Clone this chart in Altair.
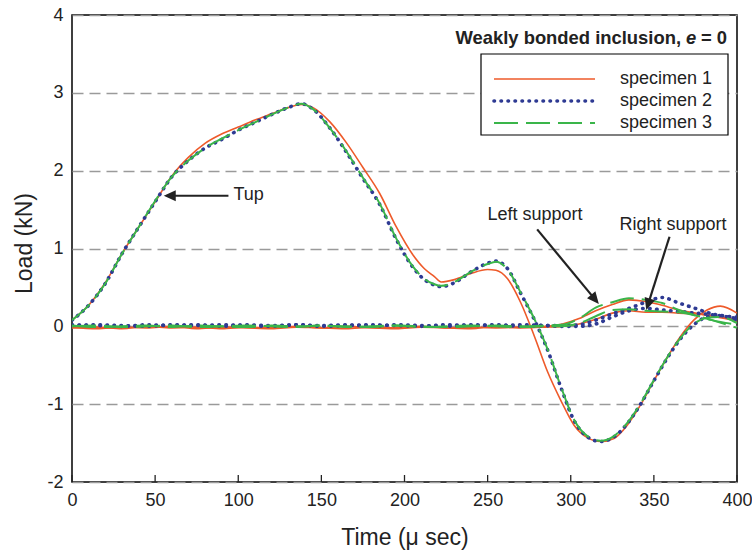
import altair as alt
import pandas as pd

# ---------------- data ----------------
SPECIMENS = ["specimen 1", "specimen 2", "specimen 3"]
COLORS = ["#ee5a2a", "#2e3a93", "#3ab54a"]

X_TICKS = [0, 50, 100, 150, 200, 250, 300, 350, 400]
Y_TICKS = [-2, -1, 0, 1, 2, 3, 4]

# Tup load (kN) vs time (micro sec)
TUP_T = [0, 10, 20, 30, 40, 50, 60, 70, 80, 90, 100, 110, 120, 130, 138, 145, 155, 165,
         175, 185, 195, 205, 212, 218, 222, 230, 240, 250, 255, 262, 270, 278, 286, 294,
         302, 310, 318, 326, 334, 342, 350, 358, 366, 374, 382, 390, 400]
TUP_1 = [0.08, 0.27, 0.56, 0.93, 1.27, 1.60, 1.93, 2.17, 2.35, 2.47, 2.56, 2.65, 2.73, 2.81,
         2.85, 2.81, 2.63, 2.36, 2.04, 1.71, 1.28, 0.92, 0.74, 0.64, 0.57, 0.60, 0.68, 0.73,
         0.72, 0.61, 0.30, -0.12, -0.58, -0.95, -1.27, -1.43, -1.48, -1.44, -1.27, -1.01,
         -0.70, -0.40, -0.13, 0.08, 0.21, 0.26, 0.17]
TUP_2 = [0.08, 0.27, 0.55, 0.93, 1.27, 1.60, 1.92, 2.13, 2.29, 2.40, 2.52, 2.62, 2.72, 2.81,
         2.86, 2.79, 2.55, 2.24, 1.90, 1.57, 1.12, 0.76, 0.60, 0.53, 0.51, 0.56, 0.70, 0.81,
         0.84, 0.74, 0.42, 0.09, -0.30, -0.78, -1.21, -1.42, -1.48, -1.42, -1.25, -1.00,
         -0.70, -0.41, -0.16, 0.02, 0.12, 0.14, 0.08]
TUP_3 = [0.08, 0.27, 0.55, 0.93, 1.27, 1.61, 1.92, 2.13, 2.29, 2.41, 2.52, 2.62, 2.72, 2.81,
         2.86, 2.79, 2.55, 2.25, 1.91, 1.58, 1.13, 0.77, 0.61, 0.54, 0.52, 0.57, 0.70, 0.80,
         0.83, 0.73, 0.43, 0.10, -0.29, -0.77, -1.20, -1.41, -1.47, -1.41, -1.24, -0.99,
         -0.69, -0.40, -0.15, 0.03, 0.11, 0.12, 0.04]

# Support loads (kN) vs time
SUP_T = [0, 15, 30, 45, 60, 75, 90, 105, 120, 135, 150, 165, 180, 195, 210, 225, 240, 255,
         270, 285, 295, 305, 315, 325, 335, 345, 355, 365, 375, 385, 400]
LEFT_1 = [-0.02, -0.01, -0.03, 0.00, -0.02, -0.01, -0.03, -0.01, -0.02, 0.00, -0.02, -0.03,
          -0.01, -0.02, 0.00, -0.02, -0.01, -0.02, -0.01, 0.00,
          0.03, 0.10, 0.20, 0.28, 0.34, 0.32, 0.27, 0.21, 0.17, 0.13, 0.07]
LEFT_2 = [0.02, 0.01, 0.00, 0.02, 0.01, 0.02, 0.00, 0.02, 0.01, 0.02, 0.00, 0.01, 0.02, 0.01,
          0.00, 0.02, 0.01, 0.02, 0.00, 0.01,
          0.01, 0.02, 0.08, 0.16, 0.23, 0.31, 0.37, 0.30, 0.23, 0.16, 0.12]
LEFT_3 = [0.00, 0.01, -0.01, 0.00, 0.01, -0.01, 0.00, 0.01, 0.00, -0.01, 0.01, 0.00, -0.01,
          0.01, 0.00, -0.01, 0.00, 0.01, 0.00, 0.01,
          0.02, 0.10, 0.24, 0.31, 0.36, 0.34, 0.30, 0.21, 0.14, 0.08, -0.02]
RIGHT_1 = [-0.01, -0.03, -0.01, -0.02, 0.00, -0.03, -0.01, -0.02, -0.03, -0.01, -0.02, 0.00,
           -0.02, -0.03, -0.01, -0.02, -0.03, 0.00, -0.02, -0.01,
           0.00, 0.03, 0.09, 0.17, 0.20, 0.18, 0.18, 0.17, 0.16, 0.14, 0.08]
RIGHT_2 = [0.01, 0.02, 0.01, 0.00, 0.02, 0.01, 0.02, 0.01, 0.00, 0.02, 0.01, 0.02, 0.00, 0.02,
           0.01, 0.00, 0.02, 0.01, 0.02, 0.01,
           0.00, 0.00, 0.03, 0.12, 0.20, 0.23, 0.21, 0.19, 0.17, 0.15, 0.10]
RIGHT_3 = [0.01, -0.01, 0.00, 0.01, -0.01, 0.01, 0.00, -0.01, 0.01, 0.00, 0.01, -0.01, 0.00,
           0.01, -0.01, 0.00, 0.01, 0.00, -0.01, 0.00,
           0.00, 0.04, 0.13, 0.21, 0.22, 0.20, 0.19, 0.18, 0.14, 0.08, 0.02]

# annotations: label, text anchor (t, load), arrow tail, arrow line end, arrow tip, head angle
ANN_LABEL = ["Tup", "Left support", "Right support"]
ANN_ALIGN = ["left", "center", "center"]
ANN_TEXT_T = [97.1, 278.5, 361.5]
ANN_TEXT_V = [1.687, 1.424, 1.308]
ANN_TAIL_T = [94.1, 279.8, 359.4]
ANN_TAIL_V = [1.678, 1.246, 1.151]
ANN_END_T = [58.8, 314.6, 346.5]
ANN_END_V = [1.678, 0.346, 0.282]
ANN_TIP_T = [55.2, 316.9, 345.4]
ANN_TIP_V = [1.678, 0.287, 0.209]
ANN_ANGLE = [270, 140.5, 197.6]

# ---------------- tables ----------------
rows = []
for spec, vals in zip(SPECIMENS, [TUP_1, TUP_2, TUP_3]):
    for t, v in zip(TUP_T, vals):
        rows.append({"t": t, "load": v, "specimen": spec, "curve": spec + " tup"})
for spec, vals in zip(SPECIMENS, [LEFT_1, LEFT_2, LEFT_3]):
    for t, v in zip(SUP_T, vals):
        rows.append({"t": t, "load": v, "specimen": spec, "curve": spec + " left"})
for spec, vals in zip(SPECIMENS, [RIGHT_1, RIGHT_2, RIGHT_3]):
    for t, v in zip(SUP_T, vals):
        rows.append({"t": t, "load": v, "specimen": spec, "curve": spec + " right"})
df = pd.DataFrame(rows)

arrows = pd.DataFrame({"t": ANN_TAIL_T, "load": ANN_TAIL_V, "t2": ANN_END_T, "load2": ANN_END_V})
heads = pd.DataFrame({"t": ANN_TIP_T, "load": ANN_TIP_V, "ang": ANN_ANGLE})
labels = pd.DataFrame({"t": ANN_TEXT_T, "load": ANN_TEXT_V, "label": ANN_LABEL})

FONT = "Liberation Sans"
INK = "#222222"

x_scale = alt.Scale(domain=[0, 400], nice=False)
y_scale = alt.Scale(domain=[-2, 4], nice=False)

x_enc = alt.X("t:Q", scale=x_scale,
              axis=alt.Axis(values=X_TICKS, title="Time (μ sec)", labelPadding=9,
                            titleY=55, titleBaseline="middle", grid=False,
                            labelFlush=False))
y_enc = alt.Y("load:Q", scale=y_scale,
              axis=alt.Axis(values=Y_TICKS, title="Load (kN)", labelPadding=9,
                            grid=True, gridDash=[11, 6], gridColor="#9a9a9a", gridWidth=1.3,
                            titleX=-48, titleY=228, titleAngle=270, titleAlign="center",
                            titleBaseline="middle", labelFlush=False,
                            labelExpr="datum.value < 0 ? '-' + abs(datum.value) : '' + datum.value"))

STYLES = [
    dict(strokeWidth=1.6),
    dict(strokeWidth=3.6, strokeDash=[0.5, 6.5], strokeCap="round"),
    dict(strokeWidth=2.0, strokeDash=[24, 8]),
]

layers = []
for spec, col, st in zip(SPECIMENS, COLORS, STYLES):
    layers.append(
        alt.Chart(df).transform_filter(alt.datum.specimen == spec)
        .mark_line(color=col, interpolate="monotone", clip=True, **st)
        .encode(x=x_enc, y=y_enc, detail="curve:N", order="t:Q")
    )

# inward ticks on x axis
tick_layer = alt.Chart(pd.DataFrame({"t": X_TICKS})).mark_rule(color=INK, strokeWidth=1.3).encode(
    x=x_enc, y=alt.value(467), y2=alt.value(460))

# arrows
arrow_lines = alt.Chart(arrows).mark_rule(color=INK, strokeWidth=2.2).encode(
    x=x_enc, x2="t2:Q", y=y_enc, y2="load2:Q")
arrow_heads = alt.Chart(heads).mark_point(
    shape="M0,0L0.9,2L-0.9,2Z", filled=True, size=144, color=INK, opacity=1).encode(
    x=x_enc, y=y_enc, angle=alt.Angle("ang:Q", scale=None))
ann_text = []
for i in range(len(ANN_LABEL)):
    ann_text.append(
        alt.Chart(labels.iloc[[i]]).mark_text(align=ANN_ALIGN[i], baseline="middle", font=FONT,
                                              fontSize=18, color=INK).encode(
            x=x_enc, y=y_enc, text="label:N"))

# legend (drawn by hand)
one = pd.DataFrame({"a": [0]})
legend_box = alt.Chart(one).mark_rect(fill="white", stroke="#000", strokeWidth=1.2).encode(
    x=alt.value(409), x2=alt.value(656), y=alt.value(39), y2=alt.value(120))
legend_layers = [legend_box]
ROW_Y = [64, 86, 108]
for spec, col, st, ry in zip(SPECIMENS, COLORS, STYLES, ROW_Y):
    legend_layers.append(alt.Chart(one).mark_rule(color=col, **st).encode(
        x=alt.value(422), x2=alt.value(523), y=alt.value(ry)))
    legend_layers.append(alt.Chart(pd.DataFrame({"label": [spec]})).mark_text(
        align="left", baseline="middle", font=FONT, fontSize=18, color=INK).encode(
        x=alt.value(548), y=alt.value(ry), text="label:N"))

TITLE_PARTS = ["Weakly bonded inclusion,", "e", "= 0"]
TITLE_STYLE = ["normal", "italic", "normal"]
TITLE_RIGHT = [609.0, 624.3, 655]
for part, sty, xr in zip(TITLE_PARTS, TITLE_STYLE, TITLE_RIGHT):
    legend_layers.append(alt.Chart(pd.DataFrame({"label": [part]})).mark_text(
        align="right", baseline="middle", font=FONT, fontSize=18.4, fontWeight="bold",
        fontStyle=sty, color=INK).encode(x=alt.value(xr), y=alt.value(23), text="label:N"))

chart = alt.layer(*layers, tick_layer, arrow_lines, arrow_heads, *ann_text, *legend_layers).properties(
    width=665, height=467,
    padding={"left": 72, "top": 15, "right": 15, "bottom": 71},
    autosize=alt.AutoSizeParams(type="none"),
    background="white",
).configure_view(stroke="#000", strokeWidth=1.5).configure_axis(
    labelFont=FONT, labelFontSize=18, labelColor=INK,
    titleFont=FONT, titleFontSize=23, titleFontWeight="normal", titleColor=INK,
    domain=False, ticks=False,
)

chart.save("out.html", embed_options={"renderer": "svg", "actions": False})
